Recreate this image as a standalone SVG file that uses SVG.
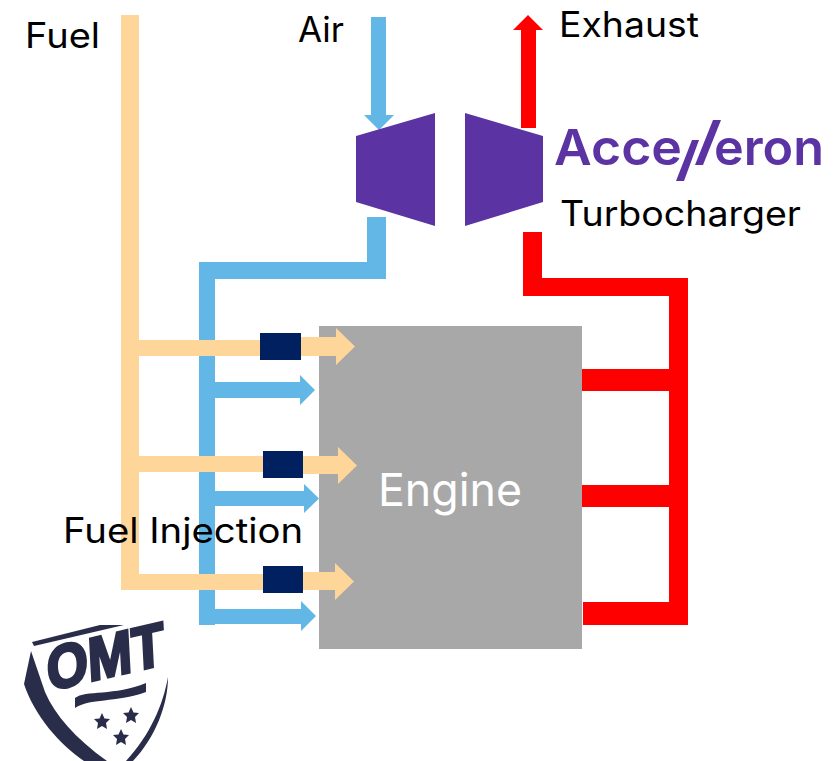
<svg xmlns="http://www.w3.org/2000/svg" width="839" height="761" viewBox="0 0 839 761">
<style>
.t{font-family:"Inter","Liberation Sans",sans-serif;font-size:35px;fill:#000}
.fuel{fill:#FFD699}.air{fill:#63B7E6}.exh{fill:#FF0000}.inj{fill:#002060}.tb{fill:#5B33A3}.omt{fill:#2A2D4A}
.lg{font-family:"Inter","Liberation Sans",sans-serif;font-size:50px;font-weight:600;fill:#5B33A3}
</style>
<rect width="839" height="761" fill="#fff"/>
<g id="engine"><rect x="319" y="326" width="263" height="323" fill="#A8A8A8"/><text x="378" y="506" textLength="144" lengthAdjust="spacingAndGlyphs" style="font-family:'Inter','Liberation Sans',sans-serif;font-size:45px;fill:#fff">Engine</text></g>
<g id="connectors">
<path class="air" d="M199 625V262H367V217H386V279H215V382H300V375L315 390L300 405V398H215V491H304V484L319 498.500L304 513V506H215V609H301V601L316 616L301 631V624H215V625Z"/>
<path class="fuel" d="M121 15H139V340H260V356H139V456H263V472H139V574H263V590H121Z"/>
<path class="fuel" d="M301 337H336V328L355 346.500L336 365V356H301Z"/>
<path class="fuel" d="M303 456H338V447L357 465.500L338 484V474H303Z"/>
<path class="fuel" d="M303 572H335V563L354 581.500L335 600V590H303Z"/>
<path class="air" d="M371 17H386V115H394L379 130L364 115H371Z"/>
<path class="exh" d="M521 128V30H513L528 15L543 30H536V128Z"/>
<path class="exh" d="M523 232H542V278H688V625H583V602H669V507H582V485H669V391H582V369H669V296H523Z"/>
</g>
<g id="injector-1"><rect class="inj" x="260" y="333" width="41" height="27"/></g>
<g id="injector-2"><rect class="inj" x="263" y="451" width="40" height="27"/></g>
<g id="injector-3"><rect class="inj" x="263" y="566" width="40" height="27"/></g>
<g id="turbo-compressor"><path class="tb" d="M356 136L435 113V226L356 202Z"/></g>
<g id="turbo-turbine"><path class="tb" d="M465 113L543 136V202L465 226Z"/></g>
<g id="accelleron-logo">
<text class="lg" x="554" y="165" textLength="128" lengthAdjust="spacingAndGlyphs">Acce</text>
<text class="lg" x="714" y="165" textLength="110" lengthAdjust="spacingAndGlyphs">eron</text>
<path class="tb" d="M692 140H699L684 181H676ZM713 120H721L703 165H695Z"/>
</g>
<g id="labels">
<text class="t" x="25" y="48" textLength="75" lengthAdjust="spacingAndGlyphs">Fuel</text>
<text class="t" x="298" y="42" textLength="46" lengthAdjust="spacingAndGlyphs">Air</text>
<text class="t" x="559" y="37" textLength="140" lengthAdjust="spacingAndGlyphs">Exhaust</text>
<text class="t" x="560" y="226" textLength="241" lengthAdjust="spacingAndGlyphs">Turbocharger</text>
<text class="t" x="63" y="543" textLength="240" lengthAdjust="spacingAndGlyphs">Fuel Injection</text>
</g>
<g id="omt-logo">
<path class="omt" d="M32 642L100 625H124L34 646Z"/>
<path class="omt" d="M31 651L24 684C34 715 60 745 84 761H107C75 738 55 715 45 692Z"/>
<path class="omt" d="M168 677C168 705 155 738 133 761H126C150 735 163 705 168 677Z"/>
<path class="omt" d="M75 698C85 690 115 696 146 683V692C115 703 90 698 75 708Z"/>
<path class="omt" d="M102 713L104.500 718.500L110 719L106 723L107 729L102 726L97 729L98 723L94 719L99.500 718.500Z"/>
<path class="omt" d="M131 707L133.500 712.500L139 713L135 717L136 723L131 720L126 723L127 717L123 713L128.500 712.500Z"/>
<path class="omt" d="M121 729L123.500 734.500L129 735L125 739L126 745L121 742L116 745L117 739L113 735L118.500 734.500Z"/>
<text transform="translate(48,691) rotate(-13) skewX(-10)" textLength="120" lengthAdjust="spacingAndGlyphs" stroke="#2A2D4A" stroke-width="3" style="font-family:'Liberation Sans',sans-serif;font-size:60px;font-weight:700;fill:#2A2D4A">OMT</text>
</g>
</svg>
